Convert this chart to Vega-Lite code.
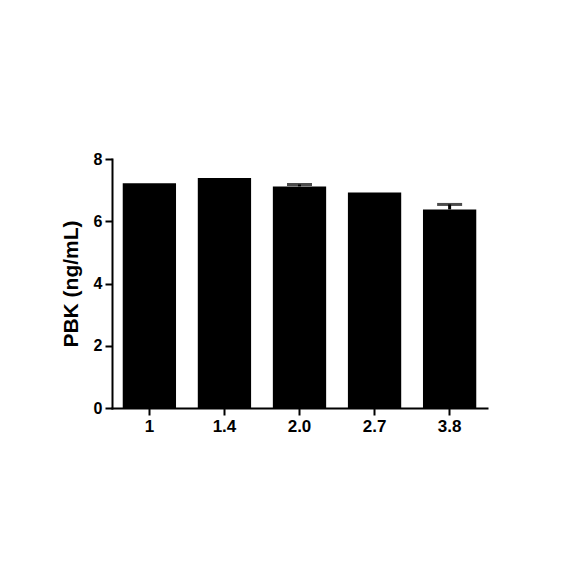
{
  "$schema": "https://vega.github.io/schema/vega-lite/v6.json",
  "autosize": "none",
  "width": 375,
  "height": 249,
  "padding": {"left": 112, "top": 159, "right": 97, "bottom": 176},
  "background": "white",
  "config": {
    "view": {"stroke": null},
    "font": "Liberation Sans",
    "axis": {
      "domainColor": "black", "domainWidth": 2, "domainCap": "square",
      "tickColor": "black", "tickWidth": 2, "tickSize": 7,
      "labelFont": "Liberation Sans", "labelFontWeight": "bold", "labelFontSize": 17, "labelColor": "black",
      "labelPadding": 3, "grid": false,
      "titleFont": "Liberation Sans", "titleFontWeight": "bold", "titleFontSize": 21, "titleColor": "black"
    }
  },
  "data": {"values": [
    {"dose": "1", "value": 7.22, "err": 0.0},
    {"dose": "1.4", "value": 7.39, "err": 0.0},
    {"dose": "2.0", "value": 7.12, "err": 0.06},
    {"dose": "2.7", "value": 6.92, "err": 0.0},
    {"dose": "3.8", "value": 6.38, "err": 0.16}
  ]},
  "transform": [{"calculate": "datum.value + datum.err", "as": "upper"}],
  "encoding": {
    "x": {"field": "dose", "type": "nominal", "sort": null,
      "scale": {"paddingInner": 0.29, "paddingOuter": 0.143},
      "axis": {"title": null, "labelAngle": 0}}
  },
  "layer": [
    {
      "mark": {"type": "rule", "color": "black", "strokeWidth": 3},
      "encoding": {
        "y": {"field": "value", "type": "quantitative"},
        "y2": {"field": "upper"}
      }
    },
    {
      "transform": [{"filter": "datum.err > 0"}],
      "mark": {"type": "tick", "color": "black", "size": 25, "thickness": 3, "orient": "horizontal"},
      "encoding": {
        "y": {"field": "upper", "type": "quantitative"}
      }
    },
    {
      "mark": {"type": "bar", "color": "black"},
      "encoding": {
        "y": {"field": "value", "type": "quantitative",
          "scale": {"domain": [0, 8], "nice": false},
          "axis": {"title": "PBK (ng/mL)", "values": [0, 2, 4, 6, 8], "titlePadding": 12, "labelFontSize": 16}}
      }
    }
  ]
}
